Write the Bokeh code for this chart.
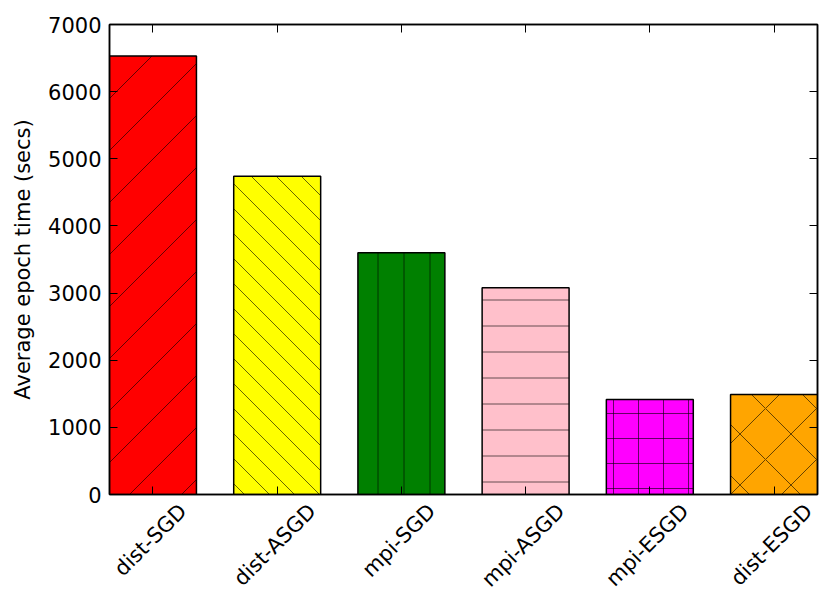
import math
import base64
from bokeh.plotting import figure
from bokeh.models import (ColumnDataSource, Range1d, FixedTicker, LinearAxis,
                          CustomJSTickFormatter, ImageURLTexture)
from bokeh.embed import file_html
from bokeh.resources import INLINE

# ---- data ----
methods = ["dist-SGD", "dist-ASGD", "mpi-SGD", "mpi-ASGD", "mpi-ESGD", "dist-ESGD"]
epoch_time = [6530, 4740, 3600, 3080, 1415, 1490]
y_ticks = [0, 1000, 2000, 3000, 4000, 5000, 6000, 7000]

# ---- styles ----
colors = ["#ff0000", "#ffff00", "#008000", "#ffc0cb", "#ff00ff", "#ffa500"]
hatches = ["diag_r", "diag_l", "|", "-", "+", "x"]
hatch_scales = [52, 25, 26, 26, 25, 51]
BAR_W = 0.7

idx = list(range(len(methods)))
centers = [i + BAR_W / 2 for i in idx]

src = ColumnDataSource(dict(x=centers, top=epoch_time, color=colors,
                            hatch=hatches, hscale=hatch_scales))


def diag_texture(s, right):
    if right:
        d = f"M-2,{s+2} L{s+2},-2 M-2,2 L2,-2 M{s-2},{s+2} L{s+2},{s-2}"
    else:
        d = f"M-2,-2 L{s+2},{s+2} M{s-2},-2 L{s+2},2 M-2,{s-2} L2,{s+2}"
    svg = (f'<svg xmlns="http://www.w3.org/2000/svg" width="{s}" height="{s}">'
           f'<path d="{d}" stroke="black" stroke-opacity="0.6" '
           f'stroke-width="1" fill="none"/></svg>')
    url = "data:image/svg+xml;base64," + base64.b64encode(svg.encode()).decode()
    return ImageURLTexture(url=url)


FONT = "DejaVu Sans"
FS_PX = 21
FS = f"{FS_PX}px"
# approximate DejaVu Sans advance widths (em), used to centre rotated labels
CHAR_EM = {"d": .635, "i": .278, "s": .521, "t": .392, "-": .361, "S": .635,
           "G": .775, "D": .770, "A": .684, "m": .974, "p": .635, "E": .632}

W, H = 822, 603
BL, BR, BT, BB = 109, 5, 24, 108
X_SPAN = len(methods) - 1 + BAR_W
PX_PER_UNIT = (W - BL - BR) / X_SPAN

p = figure(width=W, height=H, output_backend="svg", toolbar_location=None,
           x_range=Range1d(0, X_SPAN), y_range=Range1d(0, 7000),
           min_border_left=BL, min_border_right=BR, min_border_top=BT,
           min_border_bottom=BB)
p.grid.visible = False
p.outline_line_color = "black"
p.outline_line_width = 1.5

p.vbar(x="x", top="top", bottom=0, width=BAR_W, source=src,
       fill_color="color", line_color="black", line_width=1.5,
       hatch_pattern="hatch", hatch_scale="hscale", hatch_color="black",
       hatch_alpha=0.6, hatch_weight=1,
       hatch_extra={"diag_r": diag_texture(hatch_scales[0], True),
                    "diag_l": diag_texture(hatch_scales[1], False)})

p.xaxis.ticker = FixedTicker(ticks=centers)
p.xaxis.formatter = CustomJSTickFormatter(code="return ''")
p.yaxis.ticker = FixedTicker(ticks=y_ticks)
p.yaxis.axis_label = "Average epoch time (secs)"

for ax in [p.xaxis[0], p.yaxis[0]]:
    ax.major_tick_in = 8
    ax.major_tick_out = 0
    ax.minor_tick_in = 0
    ax.minor_tick_out = 0
    ax.major_tick_line_color = "black"
    ax.axis_line_color = "black"
    ax.axis_line_width = 1.5
    ax.major_label_text_font = FONT
    ax.major_label_text_font_size = FS
    ax.major_label_text_color = "black"
    ax.major_label_standoff = 8
p.xaxis.major_label_standoff = 0
p.xaxis.major_label_text_font_size = "2px"
p.yaxis.axis_label_text_font = FONT
p.yaxis.axis_label_text_font_size = FS
p.yaxis.axis_label_text_font_style = "normal"
p.yaxis.axis_label_text_color = "black"
p.yaxis.axis_label_standoff = 10

# rotated category labels: an axis without ticks whose label anchors are
# shifted so that each rotated label is centred under its bar (matplotlib style)
label_pos = []
for c, name in zip(centers, methods):
    L = sum(CHAR_EM.get(ch, 0.6) for ch in name) * FS_PX
    label_pos.append(c + (L - 7) / (2 * math.sqrt(2)) / PX_PER_UNIT)
lab_ax = LinearAxis(ticker=FixedTicker(ticks=label_pos))
lab_ax.major_label_overrides = {x: m for x, m in zip(label_pos, methods)}
lab_ax.major_label_orientation = math.pi / 4
lab_ax.major_tick_in = 0
lab_ax.major_tick_out = 0
lab_ax.minor_tick_in = 0
lab_ax.minor_tick_out = 0
lab_ax.axis_line_color = None
lab_ax.major_label_text_font = FONT
lab_ax.major_label_text_font_size = FS
lab_ax.major_label_text_color = "black"
lab_ax.major_label_standoff = 13
p.add_layout(lab_ax, "below")

# mirrored ticks on top and right
top_ax = LinearAxis(ticker=FixedTicker(ticks=centers))
right_ax = LinearAxis(ticker=FixedTicker(ticks=y_ticks))
for ax in [top_ax, right_ax]:
    ax.major_tick_in = 8
    ax.major_tick_out = 0
    ax.minor_tick_in = 0
    ax.minor_tick_out = 0
    ax.axis_line_color = "black"
    ax.axis_line_width = 1.5
    ax.formatter = CustomJSTickFormatter(code="return ''")
    ax.major_label_standoff = 0
p.add_layout(top_ax, "above")
p.add_layout(right_ax, "right")

open("out.html", "w").write(file_html(p, INLINE))
